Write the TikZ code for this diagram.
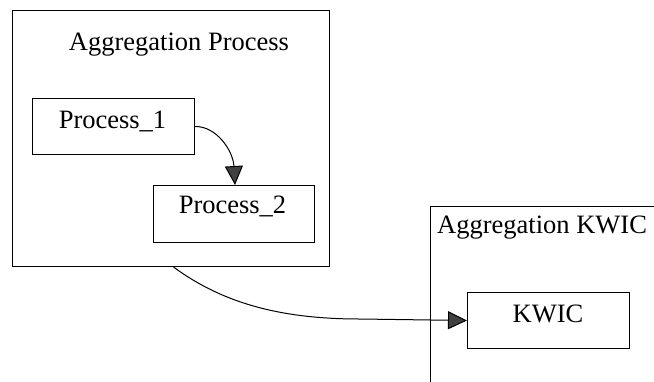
\documentclass[tikz,border=0pt]{standalone}
\usepackage{fontspec}
\setmainfont{Liberation Serif}
\usetikzlibrary{arrows.meta}
\begin{document}
\begin{tikzpicture}[x=1pt,y=1pt,
  every node/.style={font=\fontsize{26.5}{30}\selectfont},
  frame/.style={draw,line width=1pt,inner sep=0pt,anchor=north west},
  procbox/.style={draw,line width=1pt,inner sep=0pt,anchor=north west},
  conn/.style={line width=1pt,-{Triangle[length=19pt,width=18pt,fill=black!75]}},
  title/.style={inner sep=0pt,anchor=base}]
\clip (0,0) rectangle (654,-381);
\fill[white] (0,0) rectangle (654,-381);
% Aggregation Process frame
\node[frame,minimum width=317pt,minimum height=256pt] (AP) at (12,-10) {};
\node[title] (APt) at (179,-50) {Aggregation Process};
\node[procbox,minimum width=162pt,minimum height=56pt] (P1) at (32,-98) {};
\node[title] (P1t) at (112.5,-128) {Process\_1};
\node[procbox,minimum width=161pt,minimum height=57pt] (P2) at (153,-185) {};
\node[title] (P2t) at (232.5,-213) {Process\_2};
% Aggregation KWIC frame (extends past the picture)
\node[frame,minimum width=300pt,minimum height=250pt] (AK) at (430,-206) {};
\node[title,anchor=base west] (AKt) at (437,-233) {Aggregation KWIC};
\node[procbox,minimum width=162pt,minimum height=56pt] (KW) at (467,-292) {};
\node[title] (KWt) at (548,-322) {KWIC};
% connectors
\draw[conn] (P1.east) .. controls (216,-126) and (233,-150) .. (P2.north -| 235,0);
\coordinate (s) at ([xshift=2.5pt]AP.south);
\draw[conn] (s) .. controls (225,-305) and (285,-319) .. (360,-319) -- (KW.west);
\end{tikzpicture}
\end{document}
